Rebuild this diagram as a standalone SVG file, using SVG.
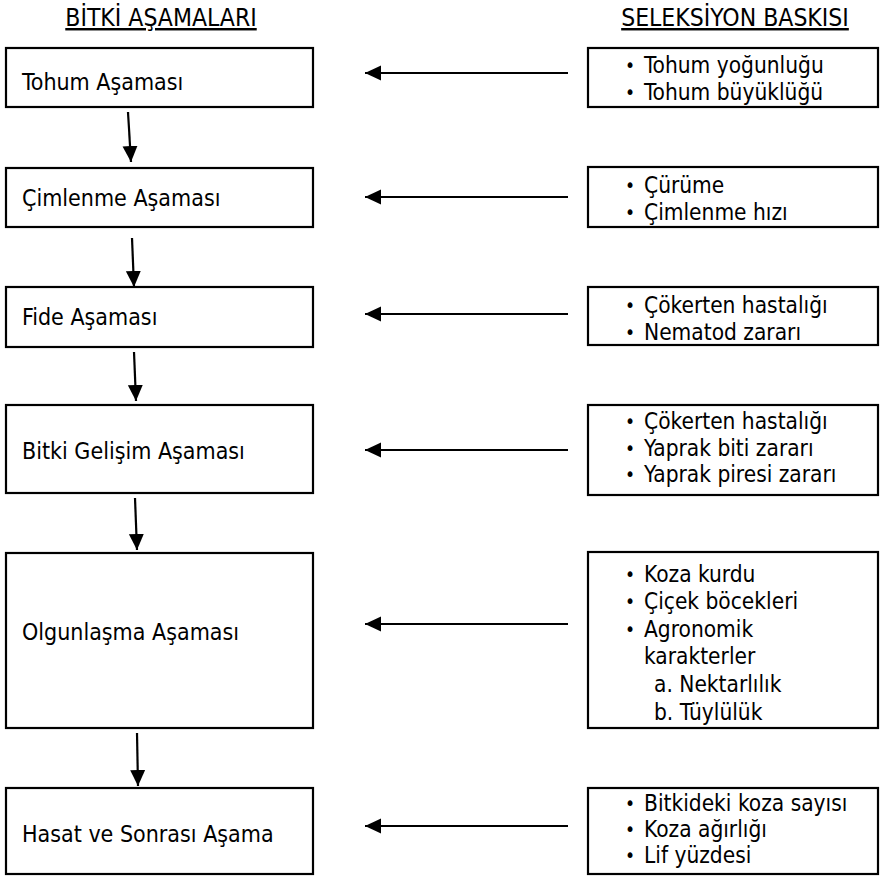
<svg xmlns="http://www.w3.org/2000/svg" width="882" height="876" viewBox="0 0 882 876">
<style>
text{font-family:"DejaVu Sans Condensed","DejaVu Sans","Liberation Sans",sans-serif;font-stretch:condensed;font-size:22.5px;fill:#000}
.hd{font-size:24.5px;text-decoration:underline}
.st{font-size:23px}
.bl{font-size:19px}
.box{fill:#fff;stroke:#000;stroke-width:2.2}
.con{stroke:#000;stroke-width:2.2;fill:none}
</style>
<defs>
<marker id="ah" markerUnits="userSpaceOnUse" markerWidth="18" markerHeight="16" refX="16" refY="7.5" orient="auto">
<path d="M0,0 L16,7.5 L0,15 z" fill="#000"/>
</marker>
</defs>
<rect width="882" height="876" fill="#fff"/>
<g id="headers">
<text class="hd" x="161" y="26" text-anchor="middle">BİTKİ AŞAMALARI</text>
<text class="hd" x="735" y="26" text-anchor="middle">SELEKSİYON BASKISI</text>
</g>
<g id="stage1"><rect class="box" x="6" y="48" width="307" height="59"/><text class="st" x="22" y="90">Tohum Aşaması</text></g>
<g id="stage2"><rect class="box" x="6" y="168" width="307" height="59"/><text class="st" x="22" y="206">Çimlenme Aşaması</text></g>
<g id="stage3"><rect class="box" x="6" y="287" width="307" height="60"/><text class="st" x="22" y="325">Fide Aşaması</text></g>
<g id="stage4"><rect class="box" x="6" y="405" width="307" height="88"/><text class="st" x="22" y="459">Bitki Gelişim Aşaması</text></g>
<g id="stage5"><rect class="box" x="6" y="553" width="307" height="175"/><text class="st" x="22" y="640">Olgunlaşma Aşaması</text></g>
<g id="stage6"><rect class="box" x="6" y="788" width="307" height="86"/><text class="st" x="22" y="842">Hasat ve Sonrası Aşama</text></g>

<g id="press1"><rect class="box" x="588" y="48" width="290" height="59"/>
<text class="bl" x="625" y="72">•</text><text x="644" y="73">Tohum yoğunluğu</text>
<text class="bl" x="625" y="99">•</text><text x="644" y="100">Tohum büyüklüğü</text></g>
<g id="press2"><rect class="box" x="588" y="167" width="290" height="60"/>
<text class="bl" x="625" y="192">•</text><text x="644" y="193">Çürüme</text>
<text class="bl" x="625" y="219">•</text><text x="644" y="220">Çimlenme hızı</text></g>
<g id="press3"><rect class="box" x="588" y="287" width="290" height="58"/>
<text class="bl" x="625" y="312">•</text><text x="644" y="313">Çökerten hastalığı</text>
<text class="bl" x="625" y="339">•</text><text x="644" y="340">Nematod zararı</text></g>
<g id="press4"><rect class="box" x="588" y="405" width="290" height="90"/>
<text class="bl" x="625" y="428">•</text><text x="644" y="429">Çökerten hastalığı</text>
<text class="bl" x="625" y="455">•</text><text x="644" y="456">Yaprak biti zararı</text>
<text class="bl" x="625" y="481">•</text><text x="644" y="482">Yaprak piresi zararı</text></g>
<g id="press5"><rect class="box" x="588" y="552" width="290" height="176"/>
<text class="bl" x="625" y="581">•</text><text x="644" y="582">Koza kurdu</text>
<text class="bl" x="625" y="608">•</text><text x="644" y="609">Çiçek böcekleri</text>
<text class="bl" x="625" y="636">•</text><text x="644" y="637">Agronomik</text>
<text x="644" y="664">karakterler</text>
<text x="654" y="692">a. Nektarlılık</text>
<text x="654" y="720">b. Tüylülük</text></g>
<g id="press6"><rect class="box" x="588" y="788" width="290" height="86"/>
<text class="bl" x="625" y="810">•</text><text x="644" y="811">Bitkideki koza sayısı</text>
<text class="bl" x="625" y="836">•</text><text x="644" y="837">Koza ağırlığı</text>
<text class="bl" x="625" y="862">•</text><text x="644" y="863">Lif yüzdesi</text></g>

<g id="connectors">
<line class="con" x1="568" y1="73" x2="365" y2="73" marker-end="url(#ah)"/>
<line class="con" x1="568" y1="197" x2="365" y2="197" marker-end="url(#ah)"/>
<line class="con" x1="568" y1="314" x2="365" y2="314" marker-end="url(#ah)"/>
<line class="con" x1="568" y1="450" x2="365" y2="450" marker-end="url(#ah)"/>
<line class="con" x1="568" y1="624" x2="365" y2="624" marker-end="url(#ah)"/>
<line class="con" x1="568" y1="826" x2="365" y2="826" marker-end="url(#ah)"/>
<line class="con" x1="128" y1="112" x2="131" y2="162" marker-end="url(#ah)"/>
<line class="con" x1="132" y1="238" x2="134" y2="287" marker-end="url(#ah)"/>
<line class="con" x1="134" y1="352" x2="136" y2="401" marker-end="url(#ah)"/>
<line class="con" x1="135" y1="498" x2="137" y2="550" marker-end="url(#ah)"/>
<line class="con" x1="137" y1="733" x2="138" y2="786" marker-end="url(#ah)"/>
</g>
</svg>
